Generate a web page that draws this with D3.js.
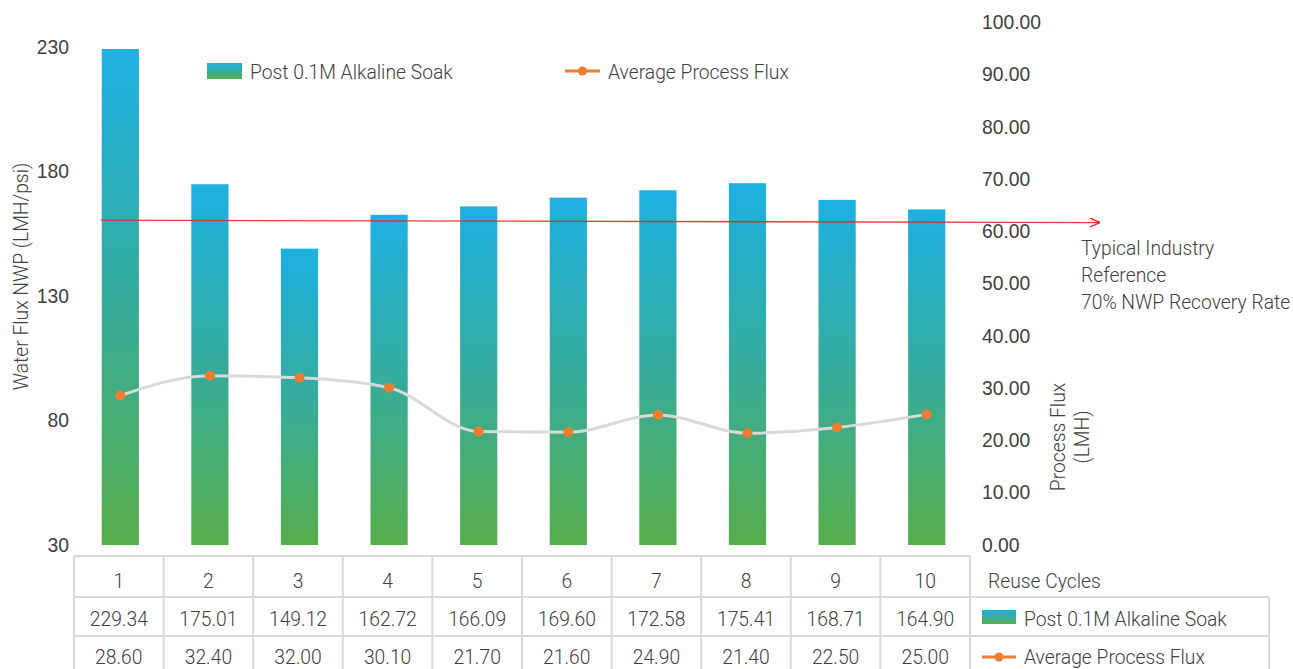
<!DOCTYPE html>
<html>
<head>
<meta charset="utf-8">
<script src="https://cdn.jsdelivr.net/npm/d3@7/dist/d3.min.js"></script>
<style>
  html, body { margin: 0; padding: 0; background: #fff; }
  svg { display: block; font-family: Roboto, "Noto Sans", sans-serif; font-weight: 300; }
  text { fill: #404040; }
</style>
</head>
<body>
<svg id="chart" width="1293" height="669"></svg>
<script>
// ---- data ----
const categories = ["1", "2", "3", "4", "5", "6", "7", "8", "9", "10"];
const soakValues = [229.34, 175.01, 149.12, 162.72, 166.09, 169.60, 172.58, 175.41, 168.71, 164.90];
const fluxValues = [28.60, 32.40, 32.00, 30.10, 21.70, 21.60, 24.90, 21.40, 22.50, 25.00];
const leftTicks = [30, 80, 130, 180, 230];
const rightTicks = [0, 10, 20, 30, 40, 50, 60, 70, 80, 90, 100];
const referenceValues = [160.54, 159.6]; // 70% NWP recovery reference (start, end)
const seriesNames = ["Post 0.1M Alkaline Soak", "Average Process Flux"];
const referenceLabel = ["Typical Industry", "Reference", "70% NWP Recovery Rate"];

// ---- layout ----
const svg = d3.select("#chart");
const plotLeft = 74, plotRight = 970, plotBottom = 545, plotTop = 22.5;
const FONT = 19.3;

const x = d3.scaleBand().domain(categories).range([plotLeft, plotRight]).padding(0);
const yL = d3.scaleLinear().domain([30, 240]).range([plotBottom, plotTop]);
const yR = d3.scaleLinear().domain([0, 100]).range([plotBottom, plotTop]);
const barW = x.bandwidth() * 0.415;
const cx = d => x(d) + x.bandwidth() / 2;
const mx = d => cx(d) + 1.5;

// gradient
const defs = svg.append("defs");
const grad = defs.append("linearGradient").attr("id", "barGrad")
  .attr("x1", 0).attr("y1", 0).attr("x2", 0).attr("y2", 1);
grad.append("stop").attr("offset", "0%").attr("stop-color", "#1db0e2");
grad.append("stop").attr("offset", "50%").attr("stop-color", "#35ac9c");
grad.append("stop").attr("offset", "100%").attr("stop-color", "#57ad4b");

const marker = defs.append("marker").attr("id", "arrow")
  .attr("viewBox", "0 0 10 10").attr("refX", 10).attr("refY", 5)
  .attr("markerWidth", 10).attr("markerHeight", 10)
  .attr("markerUnits", "userSpaceOnUse").attr("orient", "auto");
marker.append("path").attr("d", "M0,0.5 L10,5 L0,9.5").attr("fill", "none")
  .attr("stroke", "#e8231f").attr("stroke-width", 1.3);

// bars
svg.append("g").selectAll("rect").data(soakValues).join("rect")
  .attr("x", (d, i) => mx(categories[i]) - barW / 2)
  .attr("y", d => yL(d))
  .attr("width", barW)
  .attr("height", d => yL(30) - yL(d))
  .attr("fill", "url(#barGrad)");

// reference line
const refX0 = mx(categories[0]) - barW / 2 - 1;
const refX1 = plotRight + 130;
svg.append("line")
  .attr("x1", refX0).attr("y1", yL(referenceValues[0]))
  .attr("x2", refX1).attr("y2", yL(referenceValues[1]))
  .attr("stroke", "#e8231f").attr("stroke-opacity", 0.9).attr("stroke-width", 1.3)
  .attr("marker-end", "url(#arrow)");

const refText = svg.append("text").attr("x", 1081).attr("y", 255)
  .attr("font-size", FONT);
referenceLabel.forEach((t, i) => {
  refText.append("tspan").attr("x", 1081).attr("dy", i === 0 ? 0 : 27).text(t);
});

// line series
const line = d3.line()
  .x((d, i) => mx(categories[i]))
  .y(d => yR(d))
  .curve(d3.curveMonotoneX);
svg.append("path").datum(fluxValues)
  .attr("d", line).attr("fill", "none")
  .attr("stroke", "#d9d9d9").attr("stroke-width", 3);
svg.append("g").selectAll("circle").data(fluxValues).join("circle")
  .attr("cx", (d, i) => mx(categories[i])).attr("cy", d => yR(d))
  .attr("r", 5).attr("fill", "#ed7d31");

// left axis
const axL = svg.append("g").attr("transform", `translate(${plotLeft},0)`)
  .call(d3.axisLeft(yL).tickValues(leftTicks).tickSize(0).tickPadding(5));
axL.select(".domain").remove();
axL.selectAll("text").attr("font-size", FONT).attr("font-family", null).attr("fill", "#404040");

// right axis
const axR = svg.append("g").attr("transform", `translate(${plotRight + 12},0)`)
  .call(d3.axisRight(yR).tickValues(rightTicks).tickSize(0).tickPadding(0).tickFormat(d3.format(".2f")));
axR.select(".domain").remove();
axR.selectAll("text").attr("font-size", FONT).attr("font-family", null).attr("fill", "#404040");

// axis titles
svg.append("text").attr("transform", `translate(28,${(160 + 393) / 2}) rotate(-90)`)
  .attr("text-anchor", "middle").attr("font-size", FONT).text("Water Flux NWP (LMH/psi)");
svg.append("text").attr("transform", `translate(1065,437) rotate(-90)`)
  .attr("text-anchor", "middle").attr("font-size", FONT).text("Process Flux");
svg.append("text").attr("transform", `translate(1089,437) rotate(-90)`)
  .attr("text-anchor", "middle").attr("font-size", FONT).text("(LMH)");

// top legend
const lg = svg.append("g");
lg.append("rect").attr("x", 207).attr("y", 63).attr("width", 35).attr("height", 16).attr("fill", "url(#barGrad)");
lg.append("text").attr("x", 250).attr("y", 72).attr("dy", "0.35em").attr("font-size", FONT).text(seriesNames[0]);
lg.append("line").attr("x1", 565).attr("x2", 600).attr("y1", 71).attr("y2", 71)
  .attr("stroke", "#ed7d31").attr("stroke-width", 3);
lg.append("circle").attr("cx", 582.5).attr("cy", 71).attr("r", 4.5).attr("fill", "#ed7d31");
lg.append("text").attr("x", 608).attr("y", 72).attr("dy", "0.35em").attr("font-size", FONT).text(seriesNames[1]);

// data table
const rowY = [556, 597, 636, 676];
const tableRight = 1269;
const tg = svg.append("g");
const border = "#d9d9d9";
tg.append("line").attr("x1", plotLeft).attr("x2", plotRight).attr("y1", rowY[0]).attr("y2", rowY[0])
  .attr("stroke", border).attr("stroke-width", 2);
[rowY[1], rowY[2]].forEach(yv => {
  tg.append("line").attr("x1", plotLeft).attr("x2", tableRight).attr("y1", yv).attr("y2", yv)
    .attr("stroke", border).attr("stroke-width", 2);
});
const colEdges = categories.map(c => x(c)).concat([plotRight]);
colEdges.forEach(xv => {
  tg.append("line").attr("x1", xv).attr("x2", xv).attr("y1", rowY[0]).attr("y2", rowY[3])
    .attr("stroke", border).attr("stroke-width", 2);
});
tg.append("line").attr("x1", tableRight).attr("x2", tableRight).attr("y1", rowY[1]).attr("y2", rowY[3])
  .attr("stroke", border).attr("stroke-width", 2);

const rowMid = [(rowY[0] + rowY[1]) / 2 + 5, (rowY[1] + rowY[2]) / 2 + 3, (rowY[2] + rowY[3]) / 2 + 1];
tg.selectAll("text.cat").data(categories).join("text").attr("class", "cat")
  .attr("x", d => cx(d)).attr("y", rowMid[0]).attr("dy", "0.35em")
  .attr("text-anchor", "middle").attr("font-size", FONT).text(d => d);
tg.selectAll("text.soak").data(soakValues).join("text").attr("class", "soak")
  .attr("x", (d, i) => cx(categories[i])).attr("y", rowMid[1]).attr("dy", "0.35em")
  .attr("text-anchor", "middle").attr("font-size", FONT).text(d => d3.format(".2f")(d));
tg.selectAll("text.flux").data(fluxValues).join("text").attr("class", "flux")
  .attr("x", (d, i) => cx(categories[i])).attr("y", rowMid[2]).attr("dy", "0.35em")
  .attr("text-anchor", "middle").attr("font-size", FONT).text(d => d3.format(".2f")(d));

tg.append("text").attr("x", 988).attr("y", rowMid[0]).attr("dy", "0.35em").attr("font-size", FONT).text("Reuse Cycles");
tg.append("rect").attr("x", 982).attr("y", 610).attr("width", 34).attr("height", 14).attr("fill", "url(#barGrad)");
tg.append("text").attr("x", 1024).attr("y", rowMid[1]).attr("dy", "0.35em").attr("font-size", FONT).text(seriesNames[0]);
tg.append("line").attr("x1", 982).attr("x2", 1016).attr("y1", 657).attr("y2", 657)
  .attr("stroke", "#ed7d31").attr("stroke-width", 3);
tg.append("circle").attr("cx", 999).attr("cy", 657).attr("r", 4.5).attr("fill", "#ed7d31");
tg.append("text").attr("x", 1024).attr("y", rowMid[2]).attr("dy", "0.35em").attr("font-size", FONT).text(seriesNames[1]);
</script>
</body>
</html>
